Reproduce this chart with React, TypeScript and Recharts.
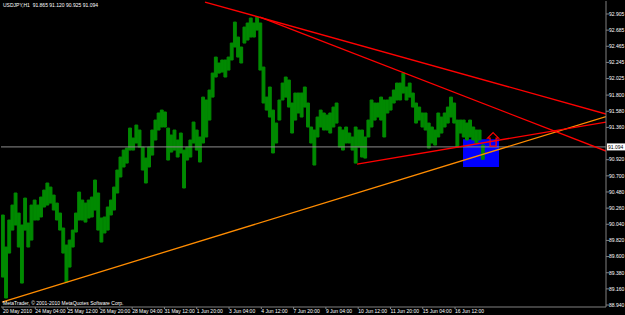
import {
  ComposedChart,
  Bar,
  XAxis,
  YAxis,
  ReferenceLine,
  ReferenceArea,
  ReferenceDot,
} from "recharts";

// USDJPY H1, 20 May – 16 Jun 2010; each entry = ~3 hourly bars (low/high)
const STEP = 3.15;
const hi = [
  90.166, 89.73, 90.098, 90.302, 90.466, 90.193, 90.03, 90.397, 90.057, 90.302,
  90.37, 90.302, 90.411, 90.506, 90.602, 90.547, 90.438, 90.329, 90.193, 89.989,
  89.757, 89.825, 89.961, 90.193, 90.479, 90.37, 90.329, 90.37, 90.411, 90.643,
  90.466, 90.125, 90.139, 90.275, 90.37, 90.547, 90.779, 90.956, 91.051, 91.079,
  91.351, 91.215, 91.392, 91.324, 91.092, 90.942, 91.092, 91.324, 91.46, 91.556,
  91.596, 91.57, 91.351, 91.256, 91.324, 91.188, 91.283, 91.051, 91.092, 91.188,
  91.433, 91.324, 91.229, 91.773, 91.733, 91.869, 92.1, 92.318, 92.237, 92.278,
  92.278, 92.318, 92.509, 92.795, 92.591, 92.455, 92.727, 92.782, 92.85, 92.782,
  92.863, 92.782, 92.182, 91.773, 91.91, 91.596, 91.419, 91.733, 91.964, 92.046,
  92.005, 91.692, 91.828, 91.828, 91.828, 91.91, 91.692, 91.365, 91.324, 91.501,
  91.596, 91.556, 91.528, 91.556, 91.637, 91.692, 91.365, 91.324, 91.365, 91.283,
  91.229, 91.365, 91.324, 91.324, 91.229, 91.46, 91.733, 91.692, 91.692, 91.773,
  91.733, 91.733, 91.773, 91.869, 91.964, 91.964, 92.1, 91.91, 91.964, 91.828,
  91.692, 91.637, 91.556, 91.556, 91.419, 91.365, 91.324, 91.556, 91.501, 91.556,
  91.637, 91.773, 91.692, 91.46, 91.46, 91.46, 91.419, 91.46, 91.365, 91.324,
  91.324, 91.12,
];
const lo = [
  89.321, 89.035, 89.648, 89.961, 90.03, 89.73, 89.239, 89.961, 89.73, 89.825,
  90.098, 90.098, 90.139, 90.275, 90.302, 90.329, 90.234, 90.098, 89.961, 89.648,
  89.253, 89.457, 89.73, 89.934, 90.098, 90.098, 90.07, 90.125, 90.139, 90.234,
  89.961, 89.798, 89.921, 89.961, 90.166, 90.234, 90.466, 90.684, 90.82, 90.874,
  91.051, 91.051, 91.147, 91.092, 90.779, 90.602, 90.82, 90.983, 91.188, 91.324,
  91.365, 91.365, 90.915, 91.024, 91.051, 90.956, 91.011, 90.534, 90.915, 90.956,
  91.147, 91.051, 90.888, 91.147, 91.229, 91.46, 91.773, 92.046, 92.1, 92.114,
  92.046, 92.141, 92.278, 92.455, 92.318, 92.237, 92.509, 92.55, 92.591, 92.591,
  92.686, 92.141, 91.692, 91.596, 91.501, 91.011, 91.147, 91.46, 91.733, 91.773,
  91.637, 91.283, 91.46, 91.556, 91.501, 91.637, 91.365, 91.147, 90.847, 91.229,
  91.365, 91.324, 91.324, 91.283, 91.365, 91.419, 91.092, 91.051, 91.147, 91.147,
  91.051, 90.874, 91.092, 90.956, 90.942, 91.229, 91.365, 91.46, 91.501, 91.46,
  91.229, 91.556, 91.596, 91.692, 91.733, 91.733, 91.828, 91.733, 91.773, 91.637,
  91.419, 91.46, 91.365, 91.324, 91.079, 91.147, 91.119, 91.229, 91.283, 91.365,
  91.419, 91.501, 91.419, 91.092, 91.283, 91.229, 91.188, 91.229, 91.188, 91.147,
  91.188, 90.925,
];

const xTickLabels = [
  "20 May 2010", "24 May 04:00", "25 May 12:00", "26 May 20:00", "28 May 04:00",
  "31 May 12:00", "1 Jun 20:00", "3 Jun 04:00", "4 Jun 12:00", "7 Jun 20:00",
  "9 Jun 04:00", "10 Jun 12:00", "11 Jun 20:00", "15 Jun 04:00", "16 Jun 12:00",
];
const xTicks = xTickLabels.map((_, i) => i * 32);
const yTicks = [
  92.905, 92.685, 92.465, 92.245, 92.025, 91.8, 91.58, 91.36, 90.92, 90.7,
  90.48, 90.26, 90.04, 89.82, 89.6, 89.38, 89.16, 88.94,
];
const BID = 91.094;
const TITLE = "USDJPY,H1  91.865 91.120 90.925 91.094";
const COPY = "MetaTrader, © 2001-2010 MetaQuotes Software Corp.";

// trendlines [bar, price] pairs
const redA = [[200.2, 93.068], [597.6, 91.542]];
const redB = [[254.7, 92.863], [597.6, 91.038]];
const redC = [[350.9, 90.861], [597.6, 91.433]];
const orange = [[-1, 88.981], [597.6, 91.508]];
const box = { x1: 455.9, x2: 491.6, y1: 90.82, y2: 91.2 };
const arrowAt = { x: 485.7, y: 91.194 };

const data = hi.map((h, k) => ({ t: k * STEP, range: [lo[k], h] }));

const FONT = "'Liberation Sans', Arial, sans-serif";
const GREY = "#808080";
const GREEN = "#008a00";
const XD: [number, number] = [-2, 597.6];
const YD: [number, number] = [88.913, 93.082];

const XTick = (p: any) => (
  <text x={p.x} y={p.y + 4} fill="#fff" fontSize={5} fontFamily={FONT}>
    {xTickLabels[Math.round(p.payload.value / 32)]}
  </text>
);

const YTick = (p: any) => (
  <text x={p.x} y={p.y + 1.8} fill="#fff" fontSize={5} fontFamily={FONT}>
    {Number(p.payload.value).toFixed(3)}
  </text>
);

const BidLabel = (p: any) => {
  const vb = p.viewBox;
  const x = vb.x + vb.width + 1;
  return (
    <g>
      <rect x={x} y={vb.y - 3.5} width={18} height={7} fill="#fff" />
      <text x={x + 1} y={vb.y + 1.8} fill="#000" fontSize={5} fontFamily={FONT}>
        {BID.toFixed(3)}
      </text>
    </g>
  );
};

const Arrow = (p: any) => {
  const { cx, cy } = p;
  const pts = [
    [0, -7], [5.5, -1.5], [3, -1.5], [3, 6.5], [-3, 6.5], [-3, -1.5], [-5.5, -1.5],
  ]
    .map(([dx, dy]) => `${cx + dx},${cy + dy}`)
    .join(" ");
  return <polygon points={pts} fill="none" stroke="#ff0000" strokeWidth={1.2} />;
};

const seg = (s: number[][]) => [
  { x: s[0][0], y: s[0][1] },
  { x: s[1][0], y: s[1][1] },
];

export default function App() {
  return (
    <div style={{ position: "fixed", left: 0, top: 0, width: 625, height: 315, background: "#000" }}>
      <ComposedChart width={625} height={315} data={data} margin={{ top: 1, right: 0, bottom: 0, left: 1 }}>
        <XAxis
          dataKey="t"
          type="number"
          domain={XD}
          ticks={xTicks}
          interval={0}
          allowDataOverflow
          height={8}
          tickSize={2}
          tickMargin={0}
          tick={<XTick />}
          tickLine={{ stroke: GREY }}
          axisLine={{ stroke: GREY }}
        />
        <XAxis xAxisId="top" orientation="top" type="number" domain={XD} height={0} tick={false} tickLine={false} axisLine={{ stroke: GREY }} />
        <YAxis
          orientation="right"
          type="number"
          domain={YD}
          ticks={yTicks}
          interval={0}
          allowDataOverflow
          width={19}
          tickSize={3}
          tickMargin={0}
          tick={<YTick />}
          tickLine={{ stroke: GREY }}
          axisLine={{ stroke: GREY }}
        />
        <YAxis yAxisId="left" orientation="left" width={0} tick={false} tickLine={false} axisLine={{ stroke: GREY }} />
        <ReferenceArea {...box} fill="#0000ff" fillOpacity={1} stroke="none" ifOverflow="hidden" />
        <Bar dataKey="range" fill={GREEN} stroke={GREEN} strokeWidth={1} barSize={3.6} isAnimationActive={false} />
        <ReferenceLine y={BID} stroke="#8c8c8c" strokeWidth={1} label={<BidLabel />} />
        <ReferenceLine segment={seg(orange)} stroke="#ff8c00" strokeWidth={1.3} ifOverflow="hidden" />
        <ReferenceLine segment={seg(redA)} stroke="#ff0000" strokeWidth={1.3} ifOverflow="hidden" />
        <ReferenceLine segment={seg(redB)} stroke="#ff0000" strokeWidth={1.3} ifOverflow="hidden" />
        <ReferenceLine segment={seg(redC)} stroke="#ff0000" strokeWidth={1.3} ifOverflow="hidden" />
        <ReferenceDot x={arrowAt.x} y={arrowAt.y} r={0} shape={<Arrow />} ifOverflow="visible" />
      </ComposedChart>
      <div style={{ position: "absolute", left: 3, top: 2, color: "#fff", fontSize: 5, fontFamily: FONT, whiteSpace: "pre", lineHeight: "6px" }}>
        {TITLE}
      </div>
      <div style={{ position: "absolute", left: 3, top: 300, color: "#fff", fontSize: 5, fontFamily: FONT, whiteSpace: "pre", lineHeight: "6px" }}>
        {COPY}
      </div>
    </div>
  );
}
